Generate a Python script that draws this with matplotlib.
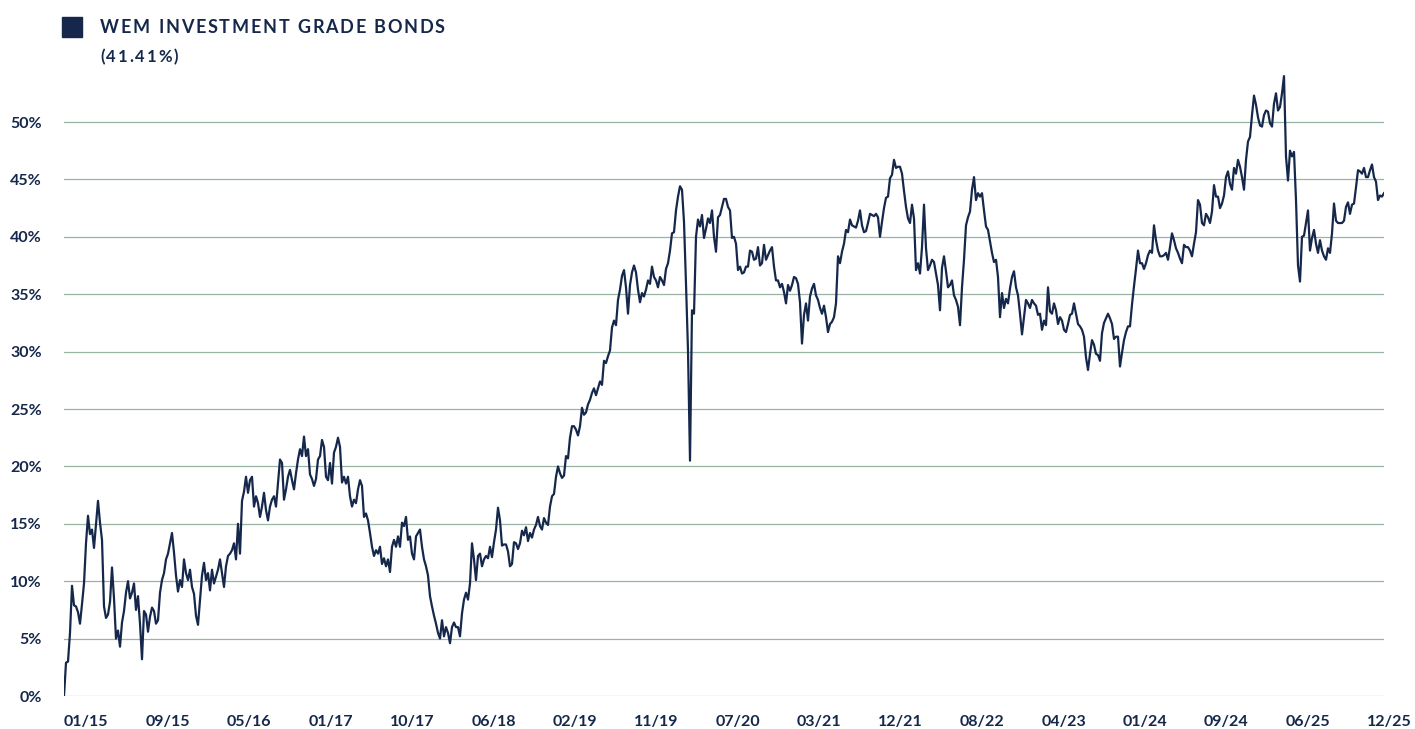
import numpy as np
import matplotlib
matplotlib.use("Agg")
import matplotlib.pyplot as plt
from matplotlib.patches import Rectangle

wem_2015_2018 = [
    0.0, 2.9, 3.0, 5.5, 9.6, 7.9, 7.8, 7.3, 6.3, 8.0,
    9.8, 13.3, 15.7, 14.1, 14.5, 12.9, 15.0, 17.0, 15.1, 13.6,
    7.8, 6.8, 7.1, 8.2, 11.2, 8.5, 5.0, 5.7, 4.3, 6.4,
    7.4, 9.0, 10.0, 8.5, 9.0, 9.8, 7.5, 8.7, 6.3, 3.2,
    7.4, 7.1, 5.6, 6.9, 7.7, 7.4, 6.3, 6.6, 9.0, 10.1,
    10.7, 11.9, 12.4, 13.3, 14.2, 12.5, 10.5, 9.1, 10.1, 9.5,
    11.9, 10.7, 10.1, 11.0, 9.5, 8.9, 7.0, 6.2, 8.3, 10.5,
    11.6, 10.1, 10.7, 9.2, 11.0, 9.8, 10.4, 11.0, 11.9, 10.7,
    9.5, 11.3, 12.2, 12.4, 12.7, 13.3, 11.9, 15.0, 12.4, 17.0,
    17.8, 19.1, 17.7, 18.8, 19.1, 16.5, 17.4, 16.8, 15.6, 16.5,
    17.7, 16.2, 15.3, 16.5, 17.1, 17.4, 16.5, 18.6, 20.6, 20.3,
    17.1, 18.0, 19.1, 19.7, 18.8, 18.0, 19.4, 20.6, 21.5, 20.9,
    22.6, 20.9, 21.5, 19.3, 18.9, 18.3, 18.9, 20.6, 20.9, 22.3,
    21.7, 19.1, 18.8, 20.3, 18.5, 21.2, 21.7, 22.5, 21.7, 18.6,
    19.1, 18.5, 19.1, 17.4, 16.5, 17.1, 16.8, 18.0, 18.8, 18.3,
    15.6, 15.9, 15.3, 14.2, 13.0, 12.2, 12.7, 12.4, 13.0, 11.5,
    12.0, 11.3, 11.9, 10.8, 13.0, 13.6, 13.0, 13.9, 13.0, 15.1,
    14.8, 15.6, 13.6, 13.9, 12.4, 11.9, 13.9, 14.2, 14.5, 13.0,
    11.9, 11.3, 10.5, 8.7, 7.8, 7.0, 6.3, 5.5, 5.0, 6.6,
    5.2, 6.0, 5.5, 4.6, 6.0, 6.4, 6.0, 6.0, 5.2, 7.2,
    8.4, 9.0, 8.4, 9.8, 13.3, 11.9, 10.1, 12.2, 12.4,
]
wem_2018_2019 = [
    11.3, 11.9, 12.2, 12.0, 13.0, 12.1, 13.4, 14.5, 16.4, 15.3,
    13.1, 13.2, 13.2, 12.6, 11.3, 11.5, 13.4, 13.3, 12.8, 13.3,
    14.4, 14.0, 14.7, 13.5, 14.2, 13.8, 14.5, 14.9, 15.6, 14.8,
    14.5, 15.5, 15.1, 14.9, 16.5, 17.4, 17.6, 19.1, 20.0, 19.4,
    19.0, 19.2, 20.9, 20.7, 22.5, 23.5, 23.5, 23.2, 22.7, 23.5,
    25.1, 24.5, 24.7, 25.4, 25.8, 26.4, 26.8, 26.2, 26.8, 27.4, 27.1,
]
wem_2019_2021 = [
    29.2, 29.0, 29.6, 30.1, 32.1, 32.7, 32.3, 34.5, 35.4, 36.6,
    37.1, 35.6, 33.3, 35.8, 36.9, 37.5, 36.9, 35.4, 34.3, 35.1,
    34.8, 35.4, 36.2, 35.9, 37.4, 36.5, 36.2, 35.6, 36.5, 36.2,
    35.8, 37.2, 37.7, 38.8, 40.3, 40.4, 42.3, 43.5, 44.4, 44.1,
    41.3, 35.9, 30.1, 20.5, 33.6, 33.3, 40.0, 41.5, 40.9, 41.9,
    39.9, 40.7, 41.6, 41.2, 42.3, 40.0, 38.7, 41.7, 41.9, 42.6,
    43.3, 43.3, 42.6, 42.3, 39.9, 40.0, 39.4, 37.1, 37.4, 36.8,
    36.9, 37.4, 37.4, 38.8, 38.7, 38.0, 38.1, 39.1, 37.5, 37.7,
    39.3, 38.0, 38.4, 38.8, 39.1, 37.4, 36.2, 36.2, 35.6, 35.9,
    35.2, 34.2, 35.8, 35.3, 35.8, 36.5, 36.4, 35.9, 34.3, 30.7,
    33.2, 34.2, 32.7, 34.8, 35.5, 35.9, 34.9, 34.5, 33.8, 33.3,
    34.0, 33.0, 31.7, 32.4, 32.6, 33.0, 34.2, 38.3,
]
wem_2021_2023 = [
    37.7, 38.7, 39.4, 40.6, 40.4, 41.5, 41.0, 40.9, 40.8, 41.4,
    42.3, 41.0, 40.4, 40.5, 41.2, 42.0, 41.9, 41.8, 42.0, 41.7,
    40.0, 41.3, 42.5, 43.4, 43.5, 45.1, 45.4, 46.7, 46.0, 46.1,
    46.1, 45.5, 44.0, 42.6, 41.6, 41.2, 42.8, 41.6, 37.1, 37.7,
    36.8, 39.1, 42.8, 39.0, 37.1, 37.5, 38.0, 37.8, 36.8, 35.8,
    33.6, 37.3, 38.3, 37.0, 35.6, 35.8, 36.2, 34.9, 34.5, 33.9,
    32.3, 35.6, 38.0, 41.0, 41.7, 42.2, 44.1, 45.2, 43.2, 43.8,
    43.5, 43.8, 42.3, 40.9, 40.6, 39.6, 38.6, 37.8, 38.0, 36.5,
    33.0, 35.1, 33.8, 34.6, 34.2, 35.5, 36.5, 37.0, 35.6, 34.9,
    33.3, 31.5, 33.0, 34.5, 34.2, 33.8, 34.5, 34.2, 34.0, 33.2,
    33.3, 31.9, 32.7, 32.3, 35.6, 33.5, 33.3, 34.2, 33.6, 32.4,
    33.0, 32.7, 31.9, 31.7, 32.4, 33.2, 33.3, 34.2, 33.3, 32.4,
    32.2, 31.9, 31.3, 29.5, 28.4, 29.8, 31.0, 30.6, 29.8, 29.7,
    29.2, 31.6, 32.5, 32.9, 33.3, 32.9, 32.4, 31.1, 31.3, 31.3,
    28.7, 29.9, 31.0, 31.7, 32.2,
]
wem_2023_2025 = [
    32.2, 34.1, 35.7, 37.2, 38.8, 37.7, 37.7, 37.2, 37.7, 38.4,
    38.8, 38.6, 41.0, 39.7, 38.8, 38.3, 38.3, 38.4, 38.6, 38.0,
    39.1, 40.3, 39.7, 39.0, 38.6, 38.1, 37.7, 39.3, 39.1, 39.1,
    38.8, 38.3, 39.4, 40.4, 43.2, 42.8, 41.2, 41.0, 42.0, 41.7,
    41.2, 42.2, 44.5, 43.5, 43.5, 42.5, 42.9, 43.6, 45.2, 45.7,
    44.6, 44.1, 46.0, 45.5, 46.7, 46.1, 45.2, 44.1, 46.7, 48.3,
    48.7, 50.6, 52.3, 51.5, 50.4, 49.7, 49.6, 50.6, 51.0, 50.9,
    49.9, 49.6, 51.6, 52.5, 51.0, 51.3, 52.5, 54.0, 47.0, 44.9,
    47.5, 47.0, 47.4, 43.2, 37.5, 36.1, 40.0, 40.1, 41.2, 42.3,
    38.8, 39.9, 40.6, 39.4, 38.6, 39.7, 38.8, 38.3, 38.0, 39.0,
    38.6, 40.3, 42.9, 41.4, 41.2, 41.2, 41.2, 41.4, 42.6, 43.0,
    42.0, 42.8, 42.9, 44.3, 45.8, 45.7, 45.5, 46.0, 45.2, 45.2,
    45.8, 46.3, 45.2, 44.8, 43.2, 43.6, 43.5, 43.8,
]

tick_labels = ["01/15", "09/15", "05/16", "01/17", "10/17", "06/18", "02/19",
               "11/19", "07/20", "03/21", "12/21", "08/22", "04/23", "01/24",
               "09/24", "06/25", "12/25"]
y_ticks = [0, 5, 10, 15, 20, 25, 30, 35, 40, 45, 50]

serie_name = "WEM INVESTMENT GRADE BONDS"
serie_wert = "(41.41%)"

values = np.array(wem_2015_2018 + wem_2018_2019 + wem_2019_2021
                  + wem_2021_2023 + wem_2023_2025)
x = np.arange(len(values))

navy = "#15284b"
grid_col = "#97b5a2"

W, H = 1415, 729
fig = plt.figure(figsize=(W / 100, H / 100), dpi=100)
ax = fig.add_axes([64 / W, 33 / H, 1320 / W, 631.4 / H])

for yv in y_ticks:
    ax.axhline(yv, color=grid_col, lw=0.9, zorder=1)

ax.plot(x, values, color=navy, lw=1.6, zorder=3, solid_joinstyle="round")

ax.set_xlim(0, len(values) - 1)
ax.set_ylim(0, 55)
for s in ax.spines.values():
    s.set_visible(False)

ax.set_yticks(y_ticks)
ax.set_yticklabels([f"{v}%" for v in y_ticks])
tick_pos = np.linspace(0, (len(values) - 1) * 0.987, len(tick_labels))
ax.set_xticks(tick_pos)
ax.set_xticklabels(tick_labels, ha="left")
ax.tick_params(axis="y", length=0, pad=16, labelsize=11.5, labelcolor=navy)
ax.tick_params(axis="x", length=0, pad=14, labelsize=11.5, labelcolor=navy)
for lab in ax.get_xticklabels() + ax.get_yticklabels():
    lab.set_fontfamily("Lato")
    lab.set_fontweight("bold")

# Legende oben links
fig.patches.append(Rectangle((62 / W, 1 - 37 / H), 20 / W, 20 / H,
                             transform=fig.transFigure, color=navy))

renderer = fig.canvas.get_renderer()


def gesperrt(x0, x1, y_base, text, size):
    # Buchstaben einzeln setzen, Abstand so dass Breite x0..x1 passt
    widths = []
    for ch in text:
        if ch == " ":
            widths.append(size * 100 / 72 * 0.25)
            continue
        t = fig.text(0, 0, ch, fontsize=size, fontfamily="Lato", fontweight="bold")
        widths.append(t.get_window_extent(renderer).width)
        t.remove()
    track = ((x1 - x0) - sum(widths)) / (len(text) - 1)
    xp = x0
    for ch, w in zip(text, widths):
        fig.text(xp / W, 1 - y_base / H, ch, fontsize=size, fontfamily="Lato",
                 fontweight="bold", color=navy, ha="left", va="baseline")
        xp += w + track


gesperrt(100, 445, 33, serie_name, 13)
gesperrt(100, 178, 62, serie_wert, 12)

fig.savefig("out.png", dpi=100)
